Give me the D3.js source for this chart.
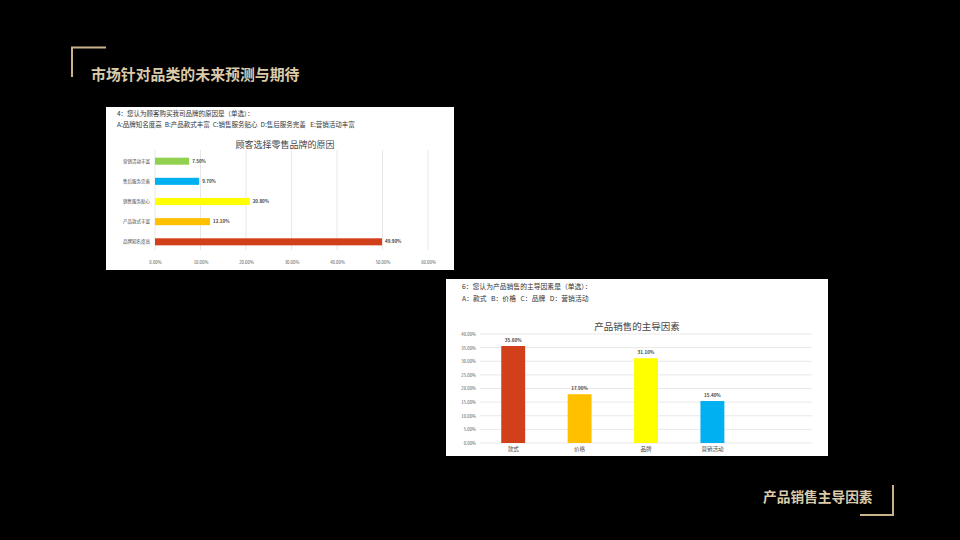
<!DOCTYPE html>
<html>
<head>
<meta charset="utf-8">
<script src="https://cdn.jsdelivr.net/npm/d3@7"></script>
<style>
  html, body { margin: 0; padding: 0; background: #000; }
  svg { display: block; font-family: "Noto Sans CJK SC", "Noto Sans", sans-serif; }
  svg text { white-space: pre; }
</style>
</head>
<body>
<svg id="page" width="960" height="540"></svg>
<script>
// chart 1: reasons for choosing a retail brand
var reasonCats = ['营销活动丰富', '售后服务完善', '销售服务贴心', '产品款式丰富', '品牌知名度高'];
var reasonVals = [0.075, 0.097, 0.208, 0.121, 0.499];
var reasonColors = ['#92d050', '#00b0f0', '#ffff00', '#ffc000', '#d2401b'];
var reasonTicks = [0, 0.1, 0.2, 0.3, 0.4, 0.5, 0.6];

// chart 2: main drivers of product sales
var driverCats = ['款式', '价格', '品牌', '营销活动'];
var driverVals = [0.356, 0.179, 0.311, 0.154];
var driverColors = ['#d2401b', '#ffc000', '#ffff00', '#00b0f0'];
var driverTicks = [0, 0.05, 0.1, 0.15, 0.2, 0.25, 0.3, 0.35, 0.4];

var gold = '#c9b28c';
var pct = d3.format('.2%');
var svg = d3.select('#page');

svg.append('rect').attr('width', 960).attr('height', 540).attr('fill', '#000');

// corner frames + headings
svg.append('path')
    .attr('d', 'M72,77 V47.5 H106')
    .attr('fill', 'none').attr('stroke', gold).attr('stroke-width', 2);
svg.append('text')
    .attr('x', 91).attr('y', 80)
    .attr('fill', '#dccbaa').attr('font-size', 14.9).attr('font-weight', 'bold')
    .text('市场针对品类的未来预测与期待');

svg.append('path')
    .attr('d', 'M893,485 V515 H860')
    .attr('fill', 'none').attr('stroke', gold).attr('stroke-width', 2);
svg.append('text')
    .attr('x', 763).attr('y', 502)
    .attr('fill', '#dccbaa').attr('font-size', 13.7).attr('font-weight', 'bold')
    .text('产品销售主导因素');

// ---------- chart 1 (horizontal bars) ----------
var c1 = svg.append('g');
c1.append('rect').attr('x', 106).attr('y', 107).attr('width', 348).attr('height', 163).attr('fill', '#fff');
c1.append('text').attr('x', 117).attr('y', 116).attr('font-size', 6.5).attr('fill', '#333')
    .text('4：您认为顾客购买我司品牌的原因是（单选）：');
c1.append('text').attr('x', 117).attr('y', 127).attr('font-size', 6.5).attr('fill', '#333')
    .text('A:品牌知名度高  B:产品款式丰富  C:销售服务贴心  D:售后服务完善   E:营销活动丰富');
c1.append('text').attr('x', 285).attr('y', 148).attr('text-anchor', 'middle')
    .attr('font-size', 9).attr('fill', '#444')
    .text('顾客选择零售品牌的原因');

var x1 = d3.scaleLinear().domain([0, 0.6]).range([155, 428]);
var y1 = d3.scaleBand().domain(reasonCats).range([151, 252])
    .paddingInner(0.65).paddingOuter(0.33);

c1.append('g').selectAll('line').data(reasonTicks).join('line')
    .attr('x1', function(d) { return x1(d); }).attr('x2', function(d) { return x1(d); })
    .attr('y1', 150).attr('y2', 250)
    .attr('stroke', '#dedede').attr('stroke-width', 0.7);

var ax1 = d3.axisBottom(x1).tickValues(reasonTicks).tickFormat(pct).tickSize(0).tickPadding(0);
c1.append('g').attr('transform', 'translate(0,261)').call(ax1)
    .call(function(g) { g.select('.domain').remove(); })
    .selectAll('text').attr('font-size', 4.3).attr('fill', '#555').attr('font-family', 'Noto Sans CJK SC');

var ay1 = d3.axisLeft(y1).tickSize(0).tickPadding(5);
c1.append('g').attr('transform', 'translate(155,0)').call(ay1)
    .call(function(g) { g.select('.domain').remove(); })
    .selectAll('text').attr('font-size', 4.5).attr('fill', '#444').attr('font-family', 'Noto Sans CJK SC');

c1.append('g').selectAll('rect').data(reasonCats).join('rect')
    .attr('x', x1(0))
    .attr('y', function(d) { return y1(d); })
    .attr('width', function(d, i) { return x1(reasonVals[i]) - x1(0); })
    .attr('height', y1.bandwidth())
    .attr('fill', function(d, i) { return reasonColors[i]; });

c1.append('g').selectAll('text').data(reasonCats).join('text')
    .attr('x', function(d, i) { return x1(reasonVals[i]) + 3; })
    .attr('y', function(d) { return y1(d) + y1.bandwidth() / 2 + 1.6; })
    .attr('font-size', 4.5).attr('font-weight', 'bold').attr('fill', '#444')
    .text(function(d, i) { return pct(reasonVals[i]); });

// ---------- chart 2 (vertical bars) ----------
var c2 = svg.append('g');
c2.append('rect').attr('x', 446).attr('y', 279).attr('width', 382).attr('height', 177).attr('fill', '#fff');
c2.append('text').attr('x', 462).attr('y', 289).attr('font-size', 6.8).attr('fill', '#333')
    .text('6：您认为产品销售的主导因素是（单选）：');
c2.append('text').attr('x', 462).attr('y', 301).attr('font-size', 6.8).attr('fill', '#333')
    .text('A：款式   B：价格   C：品牌   D：营销活动');
c2.append('text').attr('x', 637).attr('y', 330).attr('text-anchor', 'middle')
    .attr('font-size', 9.5).attr('fill', '#444')
    .text('产品销售的主导因素');

var y2 = d3.scaleLinear().domain([0, 0.4]).range([443, 334]);
var x2 = d3.scaleBand().domain(driverCats).range([480, 745.6])
    .paddingInner(0.64).paddingOuter(0.32);

c2.append('g').selectAll('line').data(driverTicks).join('line')
    .attr('x1', 480).attr('x2', 812)
    .attr('y1', function(d) { return y2(d); }).attr('y2', function(d) { return y2(d); })
    .attr('stroke', '#dedede').attr('stroke-width', 0.7);

var ay2 = d3.axisLeft(y2).tickValues(driverTicks).tickFormat(pct).tickSize(0).tickPadding(4);
c2.append('g').attr('transform', 'translate(480,0)').call(ay2)
    .call(function(g) { g.select('.domain').remove(); })
    .selectAll('text').attr('font-size', 4.3).attr('fill', '#555').attr('font-family', 'Noto Sans CJK SC');

var ax2 = d3.axisBottom(x2).tickSize(0).tickPadding(4);
c2.append('g').attr('transform', 'translate(0,443)').call(ax2)
    .call(function(g) { g.select('.domain').remove(); })
    .selectAll('text').attr('font-size', 5.5).attr('fill', '#444').attr('font-family', 'Noto Sans CJK SC');

c2.append('g').selectAll('rect').data(driverCats).join('rect')
    .attr('x', function(d) { return x2(d); })
    .attr('y', function(d, i) { return y2(driverVals[i]); })
    .attr('width', x2.bandwidth())
    .attr('height', function(d, i) { return y2(0) - y2(driverVals[i]); })
    .attr('fill', function(d, i) { return driverColors[i]; });

c2.append('g').selectAll('text').data(driverCats).join('text')
    .attr('x', function(d) { return x2(d) + x2.bandwidth() / 2; })
    .attr('y', function(d, i) { return y2(driverVals[i]) - 4; })
    .attr('text-anchor', 'middle')
    .attr('font-size', 4.6).attr('font-weight', 'bold').attr('fill', '#444')
    .text(function(d, i) { return pct(driverVals[i]); });
</script>
</body>
</html>
